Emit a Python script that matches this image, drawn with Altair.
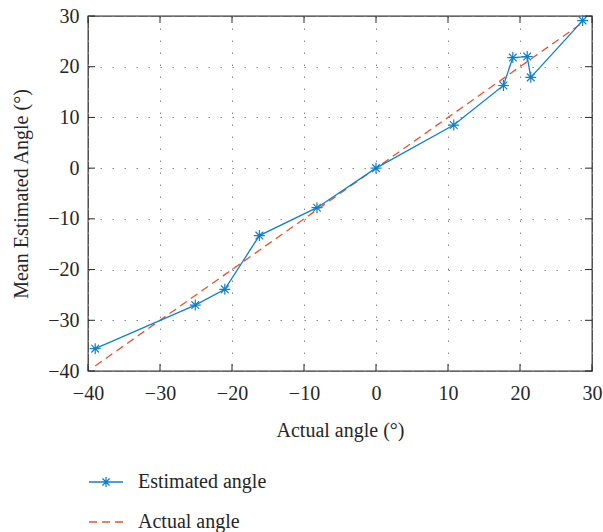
import altair as alt
import pandas as pd

actual = [-39.0, -25.1, -21.0, -16.2, -8.2, 0.0, 10.8, 17.7, 19.0, 21.0, 21.5, 28.7]
estimated = [-35.6, -27.0, -23.9, -13.3, -7.8, 0.0, 8.5, 16.3, 21.8, 22.0, 17.9, 29.1]
tick_values = [-40, -30, -20, -10, 0, 10, 20, 30]

est_name = "Estimated angle"
act_name = "Actual angle"

df = pd.DataFrame({
    "actual": actual,
    "estimated": estimated,
    "idx": list(range(len(actual))),
    "s_est": [est_name] * len(actual),
    "s_act": [act_name] * len(actual),
})
ticks_df = pd.DataFrame({"t": tick_values})

W, H = 504, 355
FONT = "Liberation Serif"
TXT = "#262626"
BLUE = "#1180C8"
RED = "#E9532F"

STAR = "M0,-1L0,1M-1,0L1,0M-0.7,-0.7L0.7,0.7M-0.7,0.7L0.7,-0.7"
LEG_STAR = "M-1,0L1,0M0,-0.3L0,0.3M-0.21,-0.21L0.21,0.21M-0.21,0.21L0.21,-0.21"

xscale = alt.Scale(domain=[-40, 30], nice=False, zero=False)
yscale = alt.Scale(domain=[-40, 30], nice=False, zero=False)

xaxis = alt.Axis(values=tick_values, title="Actual angle (°)", grid=True, domain=False, ticks=False,
                 labelPadding=12, labelFlush=False, labelOverlap=False, labelBound=False,
                 titleY=65, titleBaseline="alphabetic")
yaxis = alt.Axis(values=tick_values, title="Mean Estimated Angle (°)", grid=True, domain=False, ticks=False,
                 labelPadding=9, labelFlush=False, labelOverlap=False, labelBound=False,
                 titleX=-61, titleY=177.5, titleBaseline="alphabetic", titleAlign="center",
                 titleAngle=270)

base = alt.Chart(df)

est_line = base.mark_line(strokeWidth=1.3).encode(
    x=alt.X("actual:Q", scale=xscale, axis=xaxis),
    y=alt.Y("estimated:Q", scale=yscale, axis=yaxis),
    order="idx:Q",
    color=alt.Color("s_est:N", scale=alt.Scale(domain=[est_name], range=[BLUE]),
                    legend=alt.Legend(title=None, orient="none", legendX=0, legendY=448,
                                      symbolType=LEG_STAR, symbolSize=1156, symbolStrokeWidth=1.3,
                                      labelOffset=14, padding=0, offset=0)),
)

est_pts = base.mark_point(shape=STAR, size=121, filled=False, strokeWidth=1.2, color=BLUE, opacity=1).encode(
    x=alt.X("actual:Q", scale=xscale, axis=xaxis),
    y=alt.Y("estimated:Q", scale=yscale, axis=yaxis),
)

act_line = base.mark_line(strokeWidth=1.3, strokeDash=[8, 5]).encode(
    x=alt.X("actual:Q", scale=xscale, axis=xaxis),
    y=alt.Y("actual:Q", scale=yscale, axis=yaxis),
    order="idx:Q",
    color=alt.Color("s_act:N", scale=alt.Scale(domain=[act_name], range=[RED]),
                    legend=alt.Legend(title=None, orient="none", legendX=0, legendY=488,
                                      symbolType="stroke", symbolSize=1156, symbolStrokeWidth=1.3,
                                      symbolDash=[8, 5], labelOffset=14, padding=0, offset=0)),
)

tk = alt.Chart(ticks_df)
tick_b = tk.mark_rule(color=TXT, strokeWidth=1).encode(
    x=alt.X("t:Q", scale=xscale, axis=xaxis), y=alt.value(H), y2=alt.value(H - 7))
tick_t = tk.mark_rule(color=TXT, strokeWidth=1).encode(
    x=alt.X("t:Q", scale=xscale, axis=xaxis), y=alt.value(0), y2=alt.value(7))
tick_l = tk.mark_rule(color=TXT, strokeWidth=1).encode(
    y=alt.Y("t:Q", scale=yscale, axis=yaxis), x=alt.value(0), x2=alt.value(7))
tick_r = tk.mark_rule(color=TXT, strokeWidth=1).encode(
    y=alt.Y("t:Q", scale=yscale, axis=yaxis), x=alt.value(W), x2=alt.value(W - 7))

chart = alt.layer(act_line, est_line, est_pts, tick_b, tick_t, tick_l, tick_r).resolve_scale(
    color="independent"
).properties(
    width=W, height=H,
    autosize=alt.AutoSizeParams(type="none"),
    padding={"left": 88, "top": 16, "right": 11, "bottom": 161},
    background="white",
).configure_view(
    stroke="#333333", strokeWidth=1.3
).configure_axis(
    labelFont=FONT, labelFontSize=20, labelColor=TXT,
    titleFont=FONT, titleFontSize=20, titleColor=TXT, titleFontWeight="normal",
    gridColor="#8a8a8a", gridDash=[1.5, 10.5], gridWidth=1, gridOpacity=1,
).configure_legend(
    labelFont=FONT, labelFontSize=20, labelColor=TXT, labelLimit=400,
)

chart.save("out.html", embed_options={"renderer": "svg", "actions": False})
